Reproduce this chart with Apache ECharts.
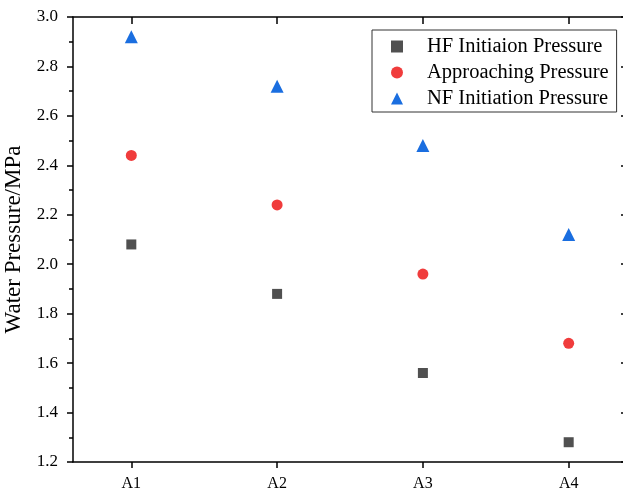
<!DOCTYPE html>
<html>
<head>
<meta charset="utf-8">
<script src="https://cdn.jsdelivr.net/npm/echarts@6/dist/echarts.min.js"></script>
<style>
  html, body { margin: 0; padding: 0; background: #fff; }
  #chart { width: 623px; height: 496px; }
</style>
</head>
<body>
<div id="chart"></div>
<script>
const categories = ['A1', 'A2', 'A3', 'A4'];
const hfInitiation = [2.08, 1.88, 1.56, 1.28];
const approaching = [2.44, 2.24, 1.96, 1.68];
const nfInitiation = [2.92, 2.72, 2.48, 2.12];
const seriesNames = ['HF Initiaion Pressure', 'Approaching Pressure', 'NF Initiation Pressure'];

const font = 'Liberation Serif';
const positions = categories.map((c, i) => i + 1);
const toPoints = vals => vals.map((v, i) => [positions[i], v]);
const lineStyle = { color: '#000', width: 1.5 };

const xCommon = {
  type: 'value',
  min: 0.6,
  max: 4.4,
  splitLine: { show: false },
  axisLine: { show: true, lineStyle },
};
const yCommon = {
  type: 'value',
  min: 1.2,
  max: 3.0,
  interval: 0.2,
  splitLine: { show: false },
  axisLine: { show: true, lineStyle },
};

const chart = echarts.init(document.getElementById('chart'));
chart.setOption({
  animation: false,
  grid: { left: 73, right: -4, top: 17, bottom: 34, containLabel: false, outerBoundsMode: 'none' },
  legend: {
    orient: 'vertical',
    left: 372,
    top: 30,
    data: seriesNames,
    borderColor: '#333',
    borderWidth: 1,
    padding: [6, 8, 3, 19],
    itemGap: 5,
    itemWidth: 12,
    itemHeight: 12,
    textStyle: { fontFamily: font, fontSize: 20.5, color: '#000', padding: [0, 0, 0, 19] },
  },
  xAxis: [
    {
      ...xCommon,
      position: 'bottom',
      axisTick: { show: true, customValues: positions, length: 6, lineStyle },
      axisLabel: {
        customValues: positions,
        formatter: v => categories[Math.round(v) - 1] || '',
        fontFamily: font, fontSize: 16, color: '#000', margin: 14,
      },
    },
    {
      ...xCommon,
      position: 'top',
      axisTick: { show: true, inside: true, customValues: positions, length: 7, lineStyle },
      axisLabel: { show: false },
    },
  ],
  yAxis: [
    {
      ...yCommon,
      position: 'left',
      name: 'Water Pressure/MPa',
      nameLocation: 'middle',
      nameGap: 45,
      nameTextStyle: { fontFamily: font, fontSize: 23, color: '#000' },
      axisTick: { show: true, length: 6, lineStyle },
      minorTick: { show: true, splitNumber: 2, length: 4, lineStyle },
      axisLabel: {
        formatter: v => v.toFixed(1),
        fontFamily: font, fontSize: 17, color: '#000', margin: 15,
      },
    },
    {
      ...yCommon,
      position: 'right',
      axisTick: { show: true, inside: true, length: 6, lineStyle },
      axisLabel: { show: false },
    },
  ],
  series: [
    {
      name: seriesNames[0],
      type: 'scatter',
      symbol: 'rect',
      symbolSize: 10,
      itemStyle: { color: '#505050', opacity: 1 },
      data: toPoints(hfInitiation),
    },
    {
      name: seriesNames[1],
      type: 'scatter',
      symbol: 'circle',
      symbolSize: 11,
      itemStyle: { color: '#f03c3c', opacity: 1 },
      data: toPoints(approaching),
    },
    {
      name: seriesNames[2],
      type: 'scatter',
      symbol: 'triangle',
      symbolSize: 13,
      itemStyle: { color: '#1a6ee0', opacity: 1 },
      data: toPoints(nfInitiation),
    },
  ],
});
</script>
</body>
</html>
